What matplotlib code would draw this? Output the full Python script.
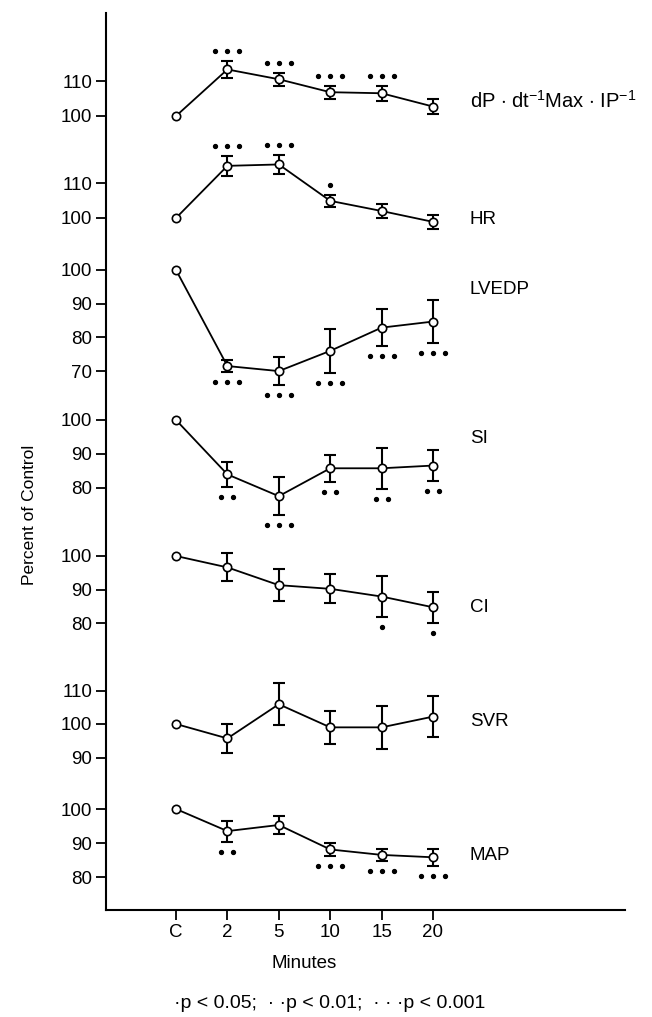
import numpy as np
import matplotlib
matplotlib.use("Agg")
import matplotlib.pyplot as plt
from matplotlib.transforms import offset_copy

plt.rcParams['font.family'] = ['Liberation Sans', 'DejaVu Sans']
plt.rcParams['mathtext.fontset'] = 'custom'
plt.rcParams['mathtext.rm'] = 'Liberation Sans'

# time points
x_labels = ['C', '2', '5', '10', '15', '20']

# percent of control, error bars and significance (number of dots, +1 above / -1 below)
dp_vals = [100, 113.3, 110.5, 106.8, 106.5, 102.7]
dp_err = [0, 2.4, 1.8, 1.9, 2.2, 2.1]
dp_sig = [0, 3, 3, 3, 3, 0]

hr_vals = [100, 114.9, 115.3, 104.9, 102.0, 98.9]
hr_err = [0, 2.8, 2.8, 1.8, 1.9, 1.9]
hr_sig = [0, 3, 3, 1, 0, 0]

lvedp_vals = [100, 71.5, 70.0, 76.0, 82.9, 84.7]
lvedp_err = [0, 1.9, 4.2, 6.5, 5.5, 6.5]
lvedp_sig = [0, 3, 3, 3, 3, 3]

si_vals = [100, 84.0, 77.6, 85.8, 85.8, 86.6]
si_err = [0, 3.7, 5.5, 4.0, 6.0, 4.6]
si_sig = [0, 2, 3, 2, 2, 2]

ci_vals = [100, 96.6, 91.3, 90.2, 87.9, 84.7]
ci_err = [0, 4.2, 4.8, 4.3, 6.0, 4.7]
ci_sig = [0, 0, 0, 0, 1, 1]

svr_vals = [100, 95.7, 105.9, 99.0, 99.0, 102.2]
svr_err = [0, 4.4, 6.3, 5.0, 6.5, 6.1]
svr_sig = [0, 0, 0, 0, 0, 0]

map_vals = [100, 93.5, 95.3, 88.1, 86.5, 85.8]
map_err = [0, 3.1, 2.6, 2.0, 1.8, 2.5]
map_sig = [0, 2, 0, 3, 3, 3]

names = [r'dP $\cdot$ dt$^{-1}$Max $\cdot$ IP$^{-1}$', 'HR', 'LVEDP', 'SI', 'CI', 'SVR', 'MAP']
ticks = [[100, 110], [100, 110], [70, 80, 90, 100], [80, 90, 100],
         [80, 90, 100], [90, 100, 110], [80, 90, 100]]

panels = [
    (dp_vals, dp_err, dp_sig, 1),
    (hr_vals, hr_err, hr_sig, 1),
    (lvedp_vals, lvedp_err, lvedp_sig, -1),
    (si_vals, si_err, si_sig, -1),
    (ci_vals, ci_err, ci_sig, -1),
    (svr_vals, svr_err, svr_sig, -1),
    (map_vals, map_err, map_sig, -1),
]

# layout: pixel row of the 100 line and pixels per unit for each panel
W, H = 652, 1017
ax_l, ax_r, ax_t, ax_b = 106, 625, 13, 910
p100 = [116, 218, 270, 420, 556, 724, 809]
scale = [3.5, 3.5, 3.37, 3.4, 3.35, 3.35, 3.4]
label_y = [101, 219, 289, 438, 607, 722, 856]
x0_px, dx_px = 176, 51.4

fig = plt.figure(figsize=(W / 100, H / 100), dpi=100)
rect = [ax_l / W, 1 - ax_b / H, (ax_r - ax_l) / W, (ax_b - ax_t) / H]
xlim = ((ax_l - x0_px) / dx_px, (ax_r - x0_px) / dx_px)
x = np.arange(len(x_labels))

base = fig.add_axes(rect)
base.set_xlim(*xlim)
base.set_ylim(0, 1)
for s in ['top', 'right']:
    base.spines[s].set_visible(False)
for s in ['left', 'bottom']:
    base.spines[s].set_linewidth(1.5)
base.set_yticks([])
base.set_xticks(x)
base.set_xticklabels(x_labels, fontsize=13.5)
base.tick_params(axis='x', direction='out', length=7, width=1.3, pad=3)

for i, (vals, err, sig, side) in enumerate(panels):
    ax = fig.add_axes(rect, facecolor='none')
    ax.set_xlim(*xlim)
    lo = 100 - (ax_b - p100[i]) / scale[i]
    hi = 100 + (p100[i] - ax_t) / scale[i]
    ax.set_ylim(lo, hi)
    for s in ax.spines.values():
        s.set_visible(False)
    ax.set_xticks([])
    ax.set_yticks(ticks[i])
    ax.set_yticklabels([str(t) for t in ticks[i]], fontsize=13.5)
    ax.tick_params(axis='y', direction='out', length=7, width=1.3, pad=3)

    vals = np.array(vals)
    err = np.array(err)
    ax.plot(x, vals, color='black', lw=1.3, zorder=2, clip_on=False)
    m = err > 0
    ax.errorbar(x[m], vals[m], yerr=err[m], fmt='none', ecolor='black',
                elinewidth=1.5, capsize=4.5, capthick=1.5, zorder=3, clip_on=False)
    ax.plot(x, vals, 'o', ms=6, mfc='white', mec='black', mew=1.2, zorder=4, clip_on=False)

    for j, n in enumerate(sig):
        if n == 0:
            continue
        yv = vals[j] + side * err[j]
        offs = (np.arange(n) - (n - 1) / 2) * 8.6
        for ox in offs:
            tr = offset_copy(ax.transData, fig=fig, x=ox, y=side * 7.2, units='points')
            ax.plot([x[j]], [yv], 'o', ms=2.8, color='black', transform=tr, clip_on=False)

    fs = 14.5 if i == 0 else 13.5
    fig.text(470 / W, 1 - label_y[i] / H, names[i], fontsize=fs, va='center', ha='left')

fig.text(30 / W, 1 - 515 / H, 'Percent of Control', rotation=90, fontsize=12.5,
         va='center', ha='center')
fig.text(304 / W, 1 - 964 / H, 'Minutes', fontsize=13.5, va='center', ha='center')
fig.text(330 / W, 1 - 1004 / H, '\u00b7p < 0.05;  \u00b7 \u00b7p < 0.01;  \u00b7 \u00b7 \u00b7p < 0.001',
         fontsize=14, va='center', ha='center')

fig.savefig('out.png', dpi=100)
